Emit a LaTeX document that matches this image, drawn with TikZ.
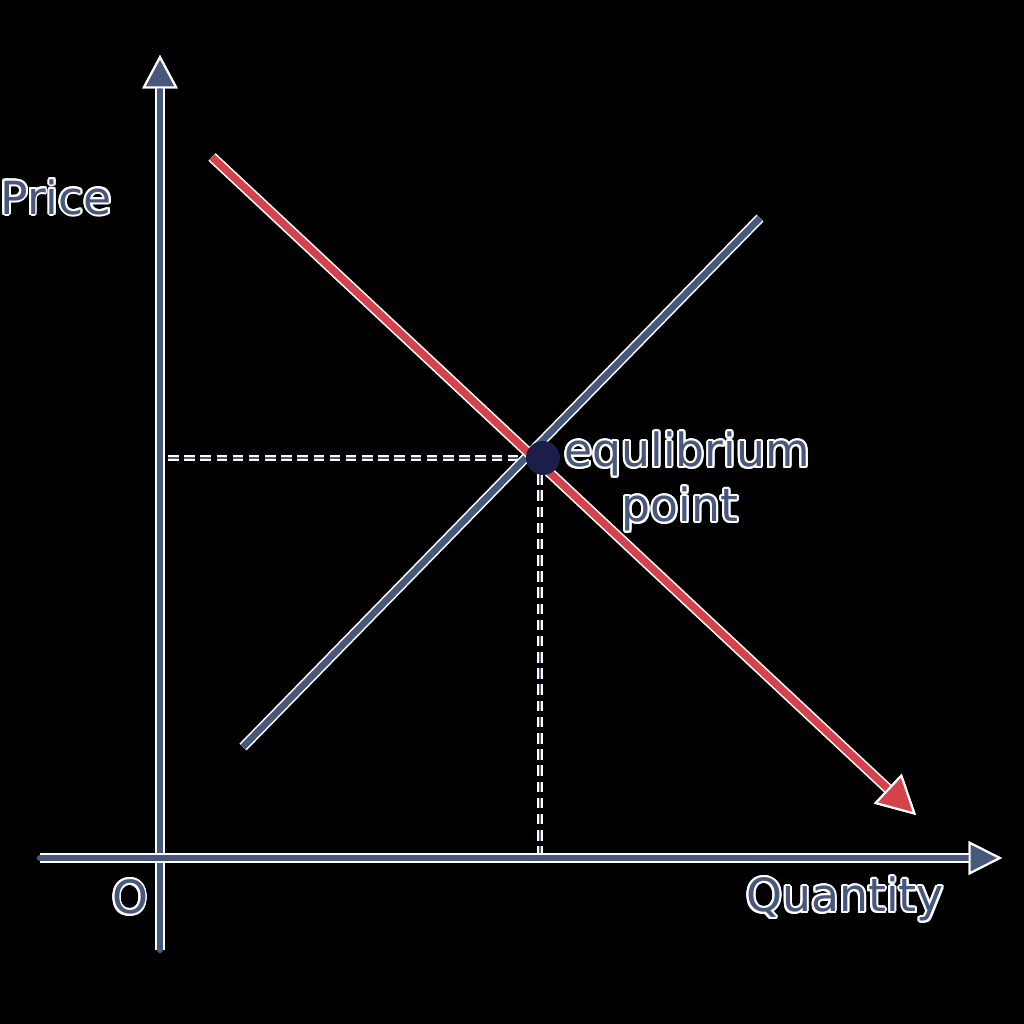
\documentclass[tikz,border=0pt]{standalone}
\usepackage{fontspec}
\setmainfont{DejaVu Sans}
\usepackage{contour}
\contourlength{0.55pt}
\usetikzlibrary{arrows.meta}

\definecolor{slate}{RGB}{72,88,125}
\definecolor{demandred}{RGB}{214,66,76}
\definecolor{eqdot}{RGB}{26,30,72}

\tikzset{
  halo/.style={preaction={draw=white, line width=#1}},
  axisline/.style={draw=slate, line width=1.8pt, halo=2.8pt, line cap=round},
  guide/.style={slate, line width=0.8pt, dash pattern=on 3pt off 1.6pt},
  guidehalo/.style={white, line width=1.8pt, dash pattern=on 3pt off 1.6pt},
  lbl/.style={text=slate, font=\fontsize{13}{15}\selectfont, inner sep=1pt},
}
\newcommand{\outl}[1]{\contour{white}{#1}}

\begin{document}
\begin{tikzpicture}[x=0.01cm, y=-0.01cm]

  % background
  \fill[black] (0,0) rectangle (1024,1024);
  \useasboundingbox (0,0) rectangle (1024,1024);

  % points
  \coordinate (yb) at (160,950);
  \coordinate (yt) at (160,55);
  \coordinate (xl) at (40,858);
  \coordinate (xr) at (1002,858);
  \coordinate (eq) at (540,458);
  \coordinate (eqy) at (168,458);
  \coordinate (eqx) at (540,858);
  \coordinate (ds) at (212,157);
  \coordinate (de) at (916,815);
  \coordinate (ss) at (243,747);
  \coordinate (se) at (760,218);

  % guide lines
  \draw[guidehalo] (eqy) -- (eq);
  \draw[guide] (eqy) -- (eq);
  \draw[guidehalo] (eq) -- (eqx);
  \draw[guide] (eq) -- (eqx);

  % axes
  \draw[axisline, -{Triangle[width=10pt, length=9.5pt, fill=slate, color=white, line width=0.6pt]}] (yb) -- (yt);
  \draw[axisline, -{Triangle[width=9.5pt, length=9.5pt, fill=slate, color=white, line width=0.6pt]}] (xl) -- (xr);

  % supply
  \draw[draw=slate, line width=1.9pt, halo=2.8pt] (ss) -- (se);

  % demand
  \draw[draw=demandred, line width=2.1pt, halo=3pt,
        -{Triangle[width=11.5pt, length=11pt, fill=demandred, color=white, line width=0.6pt]}] (ds) -- (de);

  % equilibrium
  \fill[eqdot] (eq) ++(3,0) circle (17);

  % labels
  \node[lbl] (price) at (56,198) {\outl{Price}};
  \node[lbl] (orig) at (130,898) {\outl{O}};
  \node[lbl] (qty) at (845,900) {\outl{Quantity}};
  \node[lbl] (eqa) at (687,455) {\outl{equlibrium}};
  \node[lbl] (eqb) at (680,510) {\outl{point}};

\end{tikzpicture}
\end{document}
